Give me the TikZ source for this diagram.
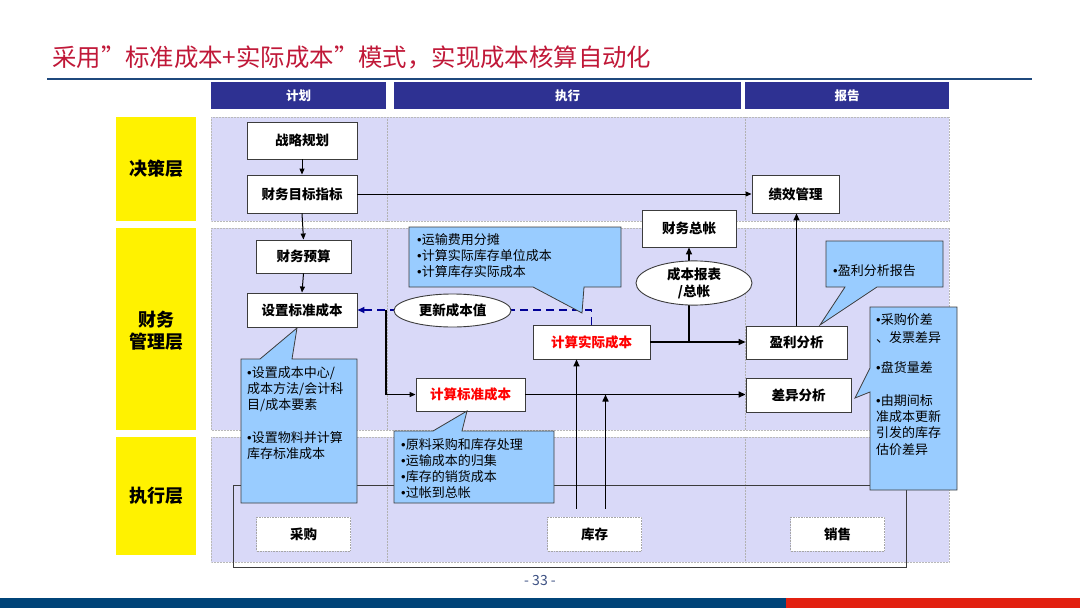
\documentclass[tikz,border=0pt]{standalone}
\usepackage{fontspec}
\newfontfamily\cjk{Noto Sans CJK SC}
\newfontfamily\lat{Liberation Sans}
\newcommand{\bu}{{\lat •}}
\usetikzlibrary{arrows.meta,shapes.geometric,calc}
\definecolor{titlered}{RGB}{192,24,56}
\definecolor{navy}{RGB}{46,49,146}
\definecolor{lav}{RGB}{217,217,248}
\definecolor{callblue}{RGB}{153,204,255}
\definecolor{boxline}{RGB}{60,60,60}
\definecolor{dashblue}{RGB}{0,0,150}
\definecolor{barblue}{RGB}{0,68,120}
\definecolor{barred}{RGB}{226,32,16}
\definecolor{ruleblue}{RGB}{31,73,125}
\definecolor{pagenum}{RGB}{60,80,130}
\tikzset{
  box/.style={draw=boxline, fill=white, line width=0.9pt, inner sep=0pt,
    font=\cjk\bfseries\fontsize{13.5}{16}\selectfont},
  redbox/.style={box, text=red},
  dotbox/.style={draw=gray!70, densely dotted, fill=white, line width=0.6pt, inner sep=0pt,
    font=\cjk\bfseries\fontsize{13.5}{16}\selectfont, minimum width=94, minimum height=34},
  oval/.style={ellipse, draw=boxline, fill=white, line width=0.9pt, inner sep=0pt,
    font=\cjk\bfseries\fontsize{13.5}{16}\selectfont, align=center},
  header/.style={fill=navy, text=white, inner sep=0pt, minimum height=27,
    font=\cjk\bfseries\fontsize{12.5}{15}\selectfont},
  rowlabel/.style={fill=yellow, inner sep=0pt, minimum width=80, align=center,
    font=\cjk\bfseries\fontsize{18}{22}\selectfont},
  panel/.style={fill=lav, draw=gray!55, densely dotted, line width=0.5pt},
  colsep/.style={draw=gray!60, densely dotted, line width=0.5pt},
  callout/.style={fill=callblue, draw=boxline, line width=0.8pt, line join=miter},
  ctext/.style={anchor=north west, inner sep=0pt, align=left,
    font=\cjk\fontsize{13}{16}\selectfont},
  conn/.style={draw=black, line width=1pt, -{Triangle[length=6pt,width=5pt]}},
  thick conn/.style={draw=black, line width=1.5pt, -{Triangle[length=7pt,width=6pt]}},
  dashconn/.style={draw=dashblue, line width=1.8pt, dash pattern=on 8pt off 5pt,
    -{Triangle[length=7pt,width=6pt]}},
}
\begin{document}
\begin{tikzpicture}[x=1pt,y=-1pt]
\useasboundingbox (0,0) rectangle (1080,608);

% title
\node[anchor=west, inner sep=0pt, text=titlered, font=\cjk\fontsize{24.4}{28}\selectfont] (title) at (52,57)
  {采用”标准成本+实际成本”模式，实现成本核算自动化};
\draw[ruleblue, line width=2pt] (47,79) -- (1032,79);

% headers
\node[header, minimum width=175] (hplan) at (298.5,95.5) {计划};
\node[header, minimum width=347] (hexec) at (567.5,95.5) {执行};
\node[header, minimum width=204] (hrep) at (847,95.5) {报告};

% row labels
\node[rowlabel, minimum height=104] (r1) at (156,169) {决策层};
\node[rowlabel, minimum height=202] (r2) at (156,329) {};
\node[inner sep=0pt, align=center, font=\cjk\bfseries\fontsize{18}{22}\selectfont] (r2t) at (156,331) {财务\\管理层};
\node[rowlabel, minimum height=118] (r3) at (156,496) {执行层};

% panels
\path[panel] (211,117) rectangle (949,221);
\path[panel] (211,228) rectangle (949,430);
\path[panel] (211,437) rectangle (949,562);
\foreach \x in {387,745}{
  \draw[colsep] (\x,117) -- (\x,221);
  \draw[colsep] (\x,228) -- (\x,430);
  \draw[colsep] (\x,437) -- (\x,562);
}

% outline rectangle (behind callouts)
\draw[boxline, line width=0.9pt] (233,485) rectangle (906,567);

% nodes
\node[box, minimum width=110, minimum height=37] (zl) at (302,140.5) {战略规划};
\node[box, minimum width=110, minimum height=38] (mb) at (302,194) {财务目标指标};
\node[box, minimum width=95, minimum height=33] (ys) at (303.5,256.5) {财务预算};
\node[box, minimum width=110, minimum height=34] (sz) at (302,310) {设置标准成本};
\node[redbox, minimum width=109, minimum height=33] (jb) at (470.5,394.5) {计算标准成本};
\node[redbox, minimum width=117, minimum height=34] (sj) at (591.5,342) {计算实际成本};
\node[box, minimum width=94, minimum height=37] (zz) at (689,228.5) {财务总帐};
\node[box, minimum width=87, minimum height=38] (jx) at (795.5,194) {绩效管理};
\node[box, minimum width=101, minimum height=33] (yl) at (796.5,342.5) {盈利分析};
\node[box, minimum width=105, minimum height=34] (cy) at (798.5,395) {差异分析};
\node[dotbox] (cg) at (303.5,534) {采购};
\node[dotbox] (kc) at (594.5,534) {库存};
\node[dotbox] (xs) at (837.5,534) {销售};

% connectors
\draw[conn] (zl.south) -- (mb.north);
\draw[conn] (mb.south) -- (ys.north);
\draw[conn] (ys.south) -- (sz.north);
\draw[conn] (mb.east) -- (jx.west);
\draw[thick conn] (yl.north) -- (yl.north |- jx.south);
\draw[thick conn] (sj.east) -- (sj.east -| yl.west);
\coordinate (j1) at (zz.south |- sj.east);
\draw[thick conn] (j1) -- (zz.south);
\draw[dashconn] (sj.north) -- (sj.north |- sz.east) -- (sz.east);
\coordinate (j2) at (386,310);
\draw[conn, line width=1.2pt] (j2) |- (jb.west);
\draw[thick conn] (jb.east) -- (jb.east -| cy.west);
\coordinate (k1) at ($(kc.north)+(-18,-8)$);
\coordinate (k2) at ($(kc.north)+(11,-8)$);
\draw[thick conn] (k1) -- (k1 |- sj.south);
\draw[thick conn] (k2) -- (k2 |- jb.east);

% ellipses
\node[oval, minimum width=117, minimum height=33] (gx) at (452.5,310.5) {更新成本值};
\node[oval, minimum width=116, minimum height=38, font=\cjk\bfseries\fontsize{13.5}{17}\selectfont] (bb) at (694,283) {成本报表\\/总帐};

% callouts
\path[callout] (409,227) -- (621,227) -- (621,287) -- (584,287) -- (582,313) -- (533,287) -- (409,287) -- cycle;
\node[ctext] (ca) at (417,233.5) {\bu 运输费用分摊\\\bu 计算实际库存单位成本\\\bu 计算库存实际成本};

\path[callout] (241,359) -- (260,359) -- (297,328) -- (292,359) -- (357,359) -- (357,503) -- (241,503) -- cycle;
\node[ctext] (cb1) at (247,366) {\bu 设置成本中心/\\成本方法/会计科\\目/成本要素};
\node[ctext] (cb2) at (247,431) {\bu 设置物料并计算\\库存标准成本};

\path[callout] (394,431) -- (433,431) -- (467,411) -- (462,431) -- (554,431) -- (554,503) -- (394,503) -- cycle;
\node[ctext] (cc) at (401,438) {\bu 原料采购和库存处理\\\bu 运输成本的归集\\\bu 库存的销货成本\\\bu 过帐到总帐};

\path[callout] (826,241) -- (943,241) -- (943,287) -- (877,287) -- (820,325) -- (845,287) -- (826,287) -- cycle;
\node[ctext] (cd) at (833,264) {\bu 盈利分析报告};

\path[callout] (870,307) -- (957,307) -- (957,490) -- (870,490) -- (870,392) -- (855,398) -- (870,368) -- cycle;
\node[ctext, font=\cjk\fontsize{13}{18}\selectfont] (ce1) at (876,313) {\bu 采购价差\\、发票差异};
\node[ctext] (ce2) at (876,361) {\bu 盘货量差};
\node[ctext, font=\cjk\fontsize{13}{16.4}\selectfont] (ce3) at (876,394) {\bu 由期间标\\准成本更新\\引发的库存\\估价差异};

% page number and bottom bar
\node[text=pagenum, inner sep=0pt, font=\cjk\fontsize{14}{16}\selectfont] (pg) at (540,581) {- 33 -};
\fill[barblue] (0,598) rectangle (786,608);
\fill[barred] (786,598) rectangle (1080,608);
\end{tikzpicture}
\end{document}
